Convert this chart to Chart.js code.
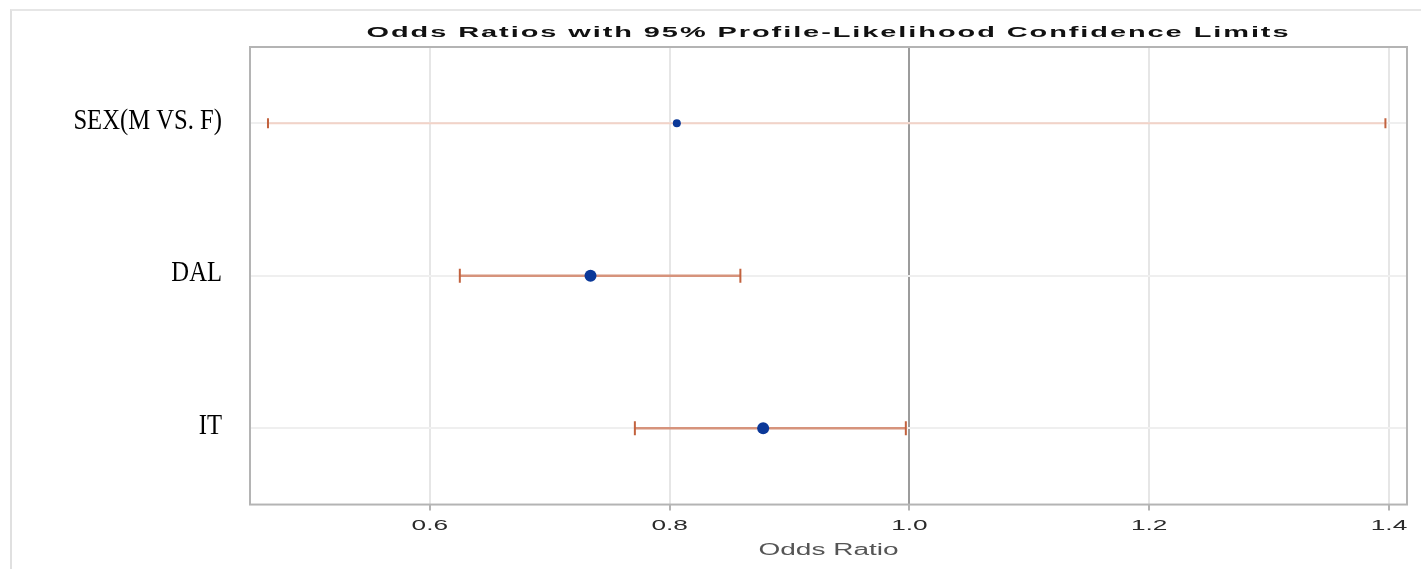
<!DOCTYPE html>
<html>
<head>
<meta charset="utf-8">
<title>Odds Ratios</title>
<script src="https://cdn.jsdelivr.net/npm/chart.js@4.4.0/dist/chart.umd.min.js"></script>
<style>
  html, body { margin: 0; padding: 0; background: #fff; }
  #wrap { position: relative; width: 1421px; height: 569px; }
  #frame { position: absolute; left: 10px; top: 9px; right: 0; bottom: 0; border-left: 2px solid #e0e0e0; border-top: 2px solid #e6e6e6; }
  #chart { position: absolute; left: 0; top: 0; }
</style>
</head>
<body>
<div id="wrap">
  <div id="frame"></div>
  <canvas id="chart" width="1421" height="569"></canvas>
</div>
<script>
// chart data
const chartTitle = 'Odds Ratios with 95% Profile-Likelihood Confidence Limits';
const xAxisTitle = 'Odds Ratio';
const effects = ['SEX(M VS. F)', 'DAL', 'IT'];
const oddsRatio = [0.806, 0.734, 0.878];
const lowerLimit = [0.465, 0.625, 0.771];
const upperLimit = [1.397, 0.859, 0.997];
const xTicks = [0.6, 0.8, 1.0, 1.2, 1.4];

// look of each confidence bar (first row is drawn thinner in the original)
const barStyle = [
    { line: '#f2d3c8', width: 2, cap: 5, dot: 4 },
    { line: '#d6937c', width: 2.5, cap: 7, dot: 6 },
    { line: '#d6937c', width: 2.5, cap: 7, dot: 6 }
];

const canvas = document.getElementById('chart');
const ctx = canvas.getContext('2d');

// the text in the original is stretched sideways (and the serif labels squeezed),
// so every text draw is scaled around its anchor point
const plainFillText = ctx.fillText;
ctx.fillText = function (text, x, y) {
    const font = this.font;
    const isTitle = font.includes('bold') || font.includes('700');
    let sx = 1.75;
    if (font.includes('Serif')) sx = 0.85;
    else if (isTitle) sx = 1.93;
    this.save();
    if (isTitle) this.letterSpacing = '1px';
    this.translate(x, y);
    this.scale(sx, 1);
    plainFillText.call(this, text, 0, 0);
    this.restore();
};

const ciDatasets = effects.map((name, i) => ({
    type: 'scatter',
    data: [{ x: lowerLimit[i], y: name }, { x: upperLimit[i], y: name }],
    showLine: true,
    borderColor: barStyle[i].line,
    borderWidth: barStyle[i].width,
    pointStyle: 'line',
    rotation: 90,
    pointRadius: barStyle[i].cap,
    pointBorderColor: '#c2623e',
    pointBorderWidth: 2,
    order: 2
}));

const orDataset = {
    type: 'scatter',
    data: effects.map((name, i) => ({ x: oddsRatio[i], y: name })),
    backgroundColor: '#0b3898',
    borderWidth: 0,
    pointRadius: barStyle.map(s => s.dot),
    order: 0
};

// box around the plot area
const plotFrame = {
    id: 'plotFrame',
    beforeDatasetsDraw(chart) {
        const { ctx, chartArea } = chart;
        ctx.save();
        ctx.strokeStyle = '#b4b4b4';
        ctx.lineWidth = 2;
        ctx.strokeRect(chartArea.left, chartArea.top, chartArea.right - chartArea.left, chartArea.bottom - chartArea.top);
        ctx.restore();
    }
};

const sansFont = '"Liberation Sans", Arial, sans-serif';

new Chart(canvas, {
    type: 'scatter',
    data: { datasets: [orDataset, ...ciDatasets] },
    options: {
        responsive: false,
        animation: false,
        events: [],
        layout: { padding: { top: 0, right: 14, bottom: 9, left: 0 } },
        plugins: {
            legend: { display: false },
            tooltip: { enabled: false },
            title: {
                display: true,
                text: chartTitle,
                fullSize: false,
                color: '#111',
                padding: { top: 24, bottom: 5 },
                font: { family: sansFont, size: 15, weight: 'bold' }
            }
        },
        scales: {
            x: {
                type: 'linear',
                min: 0.45,
                max: 1.415,
                afterBuildTicks: scale => { scale.ticks = xTicks.map(v => ({ value: v })); },
                ticks: {
                    callback: v => v.toFixed(1),
                    color: '#2a2a2a',
                    padding: 8,
                    font: { family: sansFont, size: 15, lineHeight: 0.95 }
                },
                grid: {
                    color: c => (c.tick && c.tick.value === 1 ? '#9c9c9c' : '#e6e6e6'),
                    lineWidth: 2,
                    tickLength: 6,
                    tickColor: '#b4b4b4',
                    tickWidth: 2
                },
                border: { display: false },
                title: {
                    display: true,
                    text: xAxisTitle,
                    color: '#555',
                    padding: { top: 0, bottom: 0 },
                    font: { family: sansFont, size: 16 }
                }
            },
            y: {
                type: 'category',
                labels: effects,
                offset: true,
                ticks: {
                    color: '#000',
                    padding: 28,
                    labelOffset: -2,
                    font: { family: '"Liberation Serif", "Times New Roman", serif', size: 29 }
                },
                grid: { offset: false, color: '#efefef', lineWidth: 2, drawTicks: false },
                border: { display: false },
                afterFit: scale => { scale.width = 250; }
            }
        }
    },
    plugins: [plotFrame]
});
</script>
</body>
</html>
